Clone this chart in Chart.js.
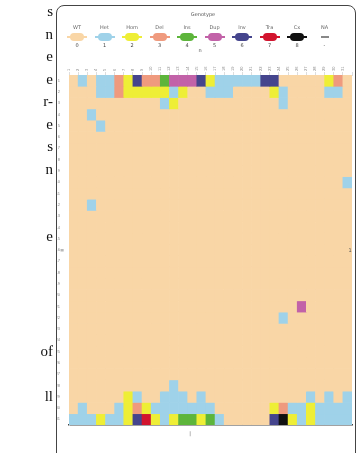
<!DOCTYPE html>
<html>
<head>
<meta charset="utf-8">
<script src="https://cdn.jsdelivr.net/npm/chart.js@4"></script>
<style>
  html, body { margin: 0; padding: 0; background: #fff; }
  #wrap { position: relative; width: 361px; height: 453px; overflow: hidden; }
  #chart { position: absolute; left: 0; top: 0; }
  #frame {
    position: absolute; left: 56px; top: 5px; width: 298px; height: 480px;
    border: 1.5px solid #444; border-radius: 8px; pointer-events: none;
  }
  .side { position: absolute; right: 308px; font: 15px "Liberation Serif", serif; color: #111; line-height: 16px; }
  .tiny { position: absolute; font: 5px "DejaVu Sans", sans-serif; color: #666; white-space: nowrap; transform: translateX(-50%); text-align: center; line-height: 5px; }
  .sw { position: absolute; transform: translateX(-50%); width: 20px; height: 8px; }
  .sw .ln { position: absolute; left: 0; right: 0; top: 3px; height: 1.5px; }
  .sw .bx { position: absolute; left: 3px; width: 14px; top: 0; height: 8px; border-radius: 4px; }
</style>
</head>
<body>
<div id="wrap">
  <canvas id="chart" width="361" height="453"></canvas>
  <div id="frame"></div>
  <div id="side"></div>
  <div id="legend"></div>
</div>
<script>
// Matrice de cellules : une ligne = une chaîne, un caractère = une catégorie
const CATEGORY_KEYS   = ['.', 'b', 'y', 's', 'g', 'p', 'd', 'r', 'k', 'w'];
const CATEGORY_COLORS = ['#f9d6a6', '#9fd2e9', '#eeee36', '#ef9a7e', '#5db53b', '#c262a8', '#45458d', '#d2142e', '#111111', '#ffffff'];
const CATEGORY_TOP    = ['WT', 'Het', 'Hom', 'Del', 'Ins', 'Dup', 'Inv', 'Tra', 'Cx', 'NA'];
const CATEGORY_BOTTOM = ['0', '1', '2', '3', '4', '5', '6', '7', '8', '-'];

const COLUMN_LABELS = Array.from({ length: 31 }, (_, i) => String(i + 1));
const ROW_LABELS    = Array.from({ length: 31 }, (_, i) => String(i + 1));

const EMPTY = '...............................';
const CELL_ROWS = [
  '.b.bbsydssgpppdybbbbbdd.....ys.',
  '...bbsyyyyyby..bbb....yb....bb.',
  '..........by...........b.......',
  '..b............................',
  '...b...........................',
  EMPTY, EMPTY, EMPTY, EMPTY,
  '..............................b',
  EMPTY,
  '..b............................',
  EMPTY, EMPTY, EMPTY, EMPTY, EMPTY, EMPTY, EMPTY, EMPTY,
  '.........................p.....',
  '.......................b.......',
  EMPTY, EMPTY, EMPTY, EMPTY, EMPTY,
  '...........b...................',
  '......yb..bbb.b...........b.b.b',
  '.b...bysybbbbbbb......ysbbybbbb',
  'bbbybbydrybyggygb.....dkybybbbb',
];

// Texte de la colonne voisine (page du document)
const SIDE_TEXT = [['s', 12], ['n', 35], ['e', 57], ['e', 80], ['r-', 102], ['e', 125], ['s', 147], ['n', 170], ['e', 237], ['of', 352], ['ll', 397]];

function cellColor(ch) {
  return CATEGORY_COLORS[CATEGORY_KEYS.indexOf(ch)];
}

// ── Textes autour ─────────────
const side = document.getElementById('side');
for (const [txt, y] of SIDE_TEXT) {
  const d = document.createElement('div');
  d.className = 'side';
  d.style.top = (y - 9) + 'px';
  d.textContent = txt;
  side.appendChild(d);
}

const legend = document.getElementById('legend');
function tiny(text, x, y, color) {
  const d = document.createElement('div');
  d.className = 'tiny';
  d.style.left = x + 'px';
  d.style.top = y + 'px';
  if (color) d.style.color = color;
  d.textContent = text;
  legend.appendChild(d);
}
tiny('Genotype', 203, 12, '#555');
CATEGORY_COLORS.forEach((color, i) => {
  const x = 77 + 27.5 * i;
  tiny(CATEGORY_TOP[i], x, 25);
  const sw = document.createElement('div');
  sw.className = 'sw';
  sw.style.left = x + 'px';
  sw.style.top = '33px';
  if (CATEGORY_KEYS[i] === 'w') {
    sw.innerHTML = '<div class="ln" style="left:6px;right:6px;background:#888"></div>';
  } else {
    sw.innerHTML = `<div class="ln" style="background:${color}"></div><div class="bx" style="background:${color}"></div>`;
  }
  legend.appendChild(sw);
  tiny(CATEGORY_BOTTOM[i], x, 43, '#444');
});
tiny('n', 200, 48, '#555');
tiny('|', 190, 431, '#555');
tiny('≡', 62, 248, '#777');
tiny('1', 350, 248, '#555');

// ── Matrice en barres empilées ─────────────
const datasets = CELL_ROWS.map((row, r) => ({
  label: ROW_LABELS[r],
  data: COLUMN_LABELS.map(() => 1),
  backgroundColor: row.split('').map(cellColor),
  borderWidth: 0,
  barPercentage: 1,
  categoryPercentage: 1,
  xAxisID: 'x',
}));

new Chart(document.getElementById('chart'), {
  type: 'bar',
  data: { labels: COLUMN_LABELS, datasets },
  options: {
    responsive: false,
    animation: false,
    layout: { padding: { left: 56, right: 9, top: 60, bottom: 27 } },
    plugins: { legend: { display: false }, tooltip: { enabled: false } },
    scales: {
      x: {
        position: 'top',
        stacked: true,
        ticks: { font: { size: 4 }, color: '#888', autoSkip: false, maxRotation: 90, minRotation: 90, padding: 1 },
        grid: { drawOnChartArea: false, color: '#ddd', tickLength: 3 },
        border: { color: '#ddd' },
        afterFit(s) { s.height = 15; },
      },
      x2: {
        type: 'category',
        labels: COLUMN_LABELS,
        position: 'bottom',
        ticks: { display: false },
        grid: { display: false },
        border: { color: '#444', width: 1.5 },
        afterFit(s) { s.height = 1; },
      },
      y: {
        stacked: true,
        reverse: true,
        min: 0,
        max: ROW_LABELS.length,
        afterBuildTicks(axis) { axis.ticks = ROW_LABELS.map((_, i) => ({ value: i + 0.5 })); },
        ticks: { callback: (v, i) => ROW_LABELS[i], font: { size: 4 }, color: '#888', autoSkip: false, padding: 1 },
        grid: { display: false },
        border: { color: '#ccc' },
        afterFit(s) { s.width = 13; },
      },
    },
  },
});
</script>
</body>
</html>
